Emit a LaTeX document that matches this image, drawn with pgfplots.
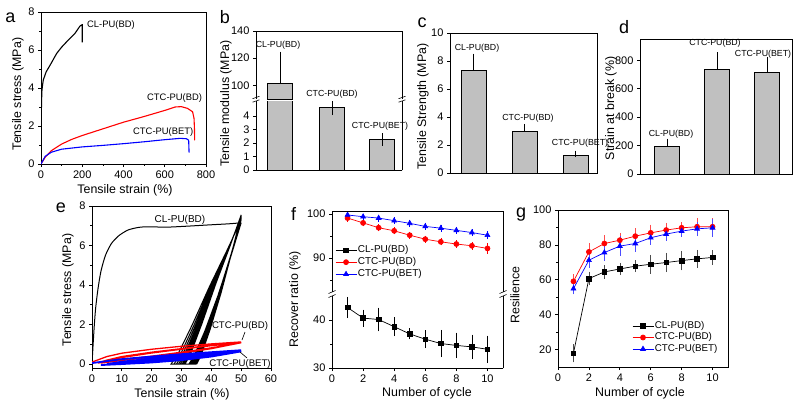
\documentclass[border=0pt]{standalone}
\usepackage{fontspec}
\setmainfont{Liberation Sans}
\usepackage{pgfplots}
\pgfplotsset{compat=1.18}
\definecolor{barg}{RGB}{192,192,192}
\definecolor{myred}{RGB}{255,0,0}
\definecolor{myblue}{RGB}{0,0,255}
\pgfplotsset{
  base/.style={scale only axis, anchor=south west,
    axis line style={line width=0.9pt},
    every tick/.style={black, line width=0.7pt},
    tick align=outside, major tick length=3pt, minor tick length=1.8pt,
    xtick pos=left, ytick pos=left,
    tick label style={font=\fontsize{11}{12}\selectfont},
    /pgf/number format/assume math mode=true},
  barplot/.style={ybar, bar shift=0pt, bar width=25, fill=barg, draw=black, line width=1pt,
    error bars/y dir=plus, error bars/y explicit,
    error bars/error bar style={line width=0.7pt, black},
    error bars/error mark options={line width=0.7pt, mark size=3pt, black}},
  legimg/.style={legend image code/.code={\draw[##1] (0pt,0pt) -- (21pt,0pt); \draw[##1] plot coordinates {(10.5pt,0pt)};}},
  ebar/.style={error bars/y dir=both, error bars/y explicit,
    error bars/error bar style={line width=0.5pt, #1},
    error bars/error mark options={line width=0.5pt, mark size=2.2pt, #1}}
}
\newcommand{\lab}{\fontsize{12.4}{14}\selectfont}
\newcommand{\blab}{\fontsize{8.8}{10}\selectfont}
\newcommand{\plab}{\fontsize{9.4}{11}\selectfont}
\newcommand{\letter}{\fontsize{18}{20}\selectfont}
\begin{document}
\begin{tikzpicture}[x=1pt,y=1pt]
\useasboundingbox (0,0) rectangle (800,408);

% ---------------- a ----------------
\begin{axis}[base, at={(41pt,244pt)}, width=165pt, height=152pt,
  xmin=0, xmax=800, ymin=0, ymax=8, xtick={0,200,...,800}, ytick={0,2,...,8},
  minor x tick num=1, minor y tick num=1]
\addplot[black, line width=1.1pt] coordinates {(0,0) (1,1.5) (2,2.9) (4,3.8) (6.5,4.07) (11,4.42) (25,4.85) (44,5.2) (76,5.82) (100,6.15) (125,6.44) (165,6.88) (189,7.26) (197,7.32) (200,7.33) (200,6.4)};
\addplot[myred, line width=1.1pt] coordinates {(0,0) (20,0.35) (50,0.7) (100,1.05) (150,1.3) (200,1.5) (300,1.85) (400,2.2) (500,2.5) (600,2.82) (650,3.0) (680,3.02) (710,2.93) (735,2.75) (742,2.4) (744,1.9) (745,1.25)};
\addplot[myblue, line width=1.1pt] coordinates {(0,0) (20,0.4) (50,0.62) (100,0.78) (200,0.9) (300,0.98) (400,1.07) (500,1.17) (600,1.28) (675,1.35) (705,1.33) (716,1.25) (718,0.6)};
\end{axis}

% ---------------- b (broken axis) ----------------
\begin{axis}[base, at={(256pt,238pt)}, width=146pt, height=69pt,
  xmin=256, xmax=402, ymin=0, ymax=5.1, xtick=\empty, ytick={0,1,2,3,4},
  separate axis lines, x axis line style={draw=none}]
\addplot[barplot, error bars/y dir=both] table[x=x, y=y, y error=e] {
x y e
280 101.5 0
332 4.6 0.32
382 2.25 0.23
};
\end{axis}
\begin{axis}[base, at={(256pt,309pt)}, width=146pt, height=68pt,
  xmin=256, xmax=402, ymin=90, ymax=140, xtick=\empty, ytick={100,120,140},
  separate axis lines, x axis line style={draw=none}]
\addplot[barplot] table[x=x, y=y, y error=e] {
x y e
280 101.5 21.2
};
\end{axis}
\draw[line width=0.9pt, line cap=rect] (256,377) -- (402,377);
\draw[line width=0.9pt, line cap=rect] (256,238) -- (402,238);
\foreach \xx in {256,402} {
  \draw[line width=0.6pt] (\xx-3.5,305.8) -- (\xx+3.5,308.2);
  \draw[line width=0.6pt] (\xx-3.5,309.3) -- (\xx+3.5,311.7);
}

% ---------------- c ----------------
\begin{axis}[base, at={(450pt,235pt)}, width=147pt, height=140pt,
  xmin=450, xmax=597, ymin=0, ymax=10, xtick=\empty, ytick={0,2,...,10}]
\addplot[barplot] table[x=x, y=y, y error=e] {
x y e
473.5 7.32 1.0
524.5 2.99 0.31
575.5 1.27 0.12
};
\end{axis}

% ---------------- d ----------------
\begin{axis}[base, at={(640pt,234pt)}, width=152pt, height=135pt,
  xmin=640, xmax=792, ymin=0, ymax=950, xtick=\empty, ytick={0,200,...,800}]
\addplot[barplot] table[x=x, y=y, y error=e] {
x y e
667 192 35
717 735 100
767 711 89
};
\end{axis}

% ---------------- e ----------------
\begin{axis}[base, at={(92pt,40pt)}, width=179pt, height=162pt,
  xmin=0, xmax=60, ymin=-0.2, ymax=8, xtick={0,10,...,60}, ytick={0,2,...,8},
  minor y tick num=1]
\addplot[black, line width=1pt, smooth, tension=0.4] coordinates {(0,0) (0.3,0.8) (0.7,1.8) (1.2,2.8) (2,3.8) (3,4.7) (4.5,5.5) (6.5,6.1) (9,6.5) (12,6.78) (15,6.9) (18,6.95) (25,6.93) (32,6.98) (40,7.05) (46,7.1) (50,7.15)};
\addplot[black, line width=1pt] coordinates {
(50,7.15) (46.5,5.43) (42.13,3.43) (37.75,1.64) (34.25,0.43) (32.5,0)
(26.5,0) (28.85,0.51) (33.55,1.97) (39.43,3.94) (45.3,5.77) (50,7.30)
(46.6,5.55) (42.35,3.5) (38.1,1.68) (34.7,0.44) (33,0)
(27.5,0) (29.75,0.52) (34.25,1.99) (39.88,3.97) (45.5,5.81) (50,7.36)
(46.68,5.59) (42.53,3.53) (38.38,1.69) (35.06,0.44) (33.4,0)
(28.3,0) (30.47,0.52) (34.81,2.0) (40.24,4.0) (45.66,5.85) (50,7.40)
(46.76,5.62) (42.71,3.55) (38.66,1.70) (35.42,0.44) (33.8,0)
(29,0) (31.1,0.52) (35.3,2.01) (40.55,4.02) (45.8,5.88) (50,7.44)
(46.82,5.65) (42.85,3.57) (38.87,1.71) (35.69,0.45) (34.1,0)
(29.6,0) (31.64,0.52) (35.72,2.02) (40.82,4.03) (45.92,5.9) (50,7.47)
(46.88,5.68) (42.98,3.59) (39.08,1.72) (35.96,0.45) (34.4,0)
(30.2,0) (32.18,0.53) (36.14,2.03) (41.09,4.05) (46.04,5.93) (50,7.5)
(46.94,5.7) (43.12,3.6) (39.29,1.73) (36.23,0.45) (34.7,0)
(30.7,0) (32.63,0.53) (36.49,2.03) (41.32,4.06) (46.14,5.94) (50,7.52)
(46.98,5.72) (43.21,3.61) (39.43,1.73) (36.41,0.45) (34.9,0)
(31.2,0) (33.08,0.53) (36.84,2.04) (41.54,4.08) (46.24,5.96) (50,7.55)
(47.02,5.74) (43.3,3.62) (39.57,1.74) (36.59,0.45) (35.1,0)};
\addplot[myred, line width=1.3pt] coordinates {
(0,0.1) (5,0.38) (10,0.55) (20,0.75) (30,0.9) (40,1.02) (50,1.12)
(45,0.95) (40,0.82) (30,0.6) (20,0.4) (10,0.22) (5,0.12) (2,0.05)
(5,0.2) (10,0.38) (20,0.6) (30,0.78) (40,0.95) (50,1.1)
(40,0.8) (30,0.57) (20,0.37) (10,0.2) (3,0.06)
(10,0.33) (20,0.56) (30,0.75) (40,0.93) (50,1.08)
(40,0.78) (30,0.55) (20,0.35) (10,0.18) (3,0.05)};
\addplot[myblue, line width=1.8pt] coordinates {
(0,0.05) (5,0.15) (10,0.25) (20,0.38) (30,0.5) (40,0.6) (50,0.7)
(40,0.45) (30,0.28) (20,0.15) (10,0.05) (5,0)
(10,0.12) (20,0.28) (30,0.42) (40,0.55) (50,0.68)
(40,0.42) (30,0.25) (20,0.12) (10,0.03) (5,-0.02)
(10,0.08) (20,0.22) (30,0.36) (40,0.5) (50,0.64)
(40,0.38) (30,0.2) (20,0.08) (10,0) (3,-0.05)};
\end{axis}

% ---------------- f (broken axis) ----------------
\begin{axis}[base, at={(332pt,116pt)}, width=171pt, height=81pt,
  xmin=0, xmax=11, ymin=82.3, ymax=100.7, xtick=\empty, ytick={90,100}, minor ytick={85,95},
  separate axis lines, x axis line style={draw=none}, legimg,
  legend style={at={(0.0175,0.593)}, anchor=north west, draw=none, fill=none,
    font=\fontsize{10}{12}\selectfont, inner sep=0pt, row sep=0pt,
    nodes={inner sep=1pt, text height=7.5pt, text depth=2.5pt}},
  legend cell align=left]
\addlegendimage{black, line width=0.7pt, mark=square*, mark size=2.3pt}
\addlegendentry{CL-PU(BD)}
\addplot[myred, line width=0.7pt, mark=*, mark size=2.5pt, ebar=myred] table[x=x, y=y, y error=e] {
x y e
1 99.1 0.3
2 98.0 0.3
3 96.9 0.3
4 96.2 0.3
5 95.2 0.3
6 94.3 0.3
7 93.7 0.3
8 93.2 0.3
9 92.8 0.4
10 92.2 0.7
};
\addlegendentry{CTC-PU(BD)}
\addplot[myblue, line width=0.7pt, mark=triangle*, mark size=2.8pt, ebar=myblue] table[x=x, y=y, y error=e] {
x y e
1 99.8 0.3
2 99.4 0.2
3 99.1 0.3
4 98.5 0.3
5 97.9 0.3
6 97.2 0.3
7 96.8 0.3
8 96.3 0.3
9 95.8 0.3
10 95.2 0.4
};
\addlegendentry{CTC-PU(BET)}
\end{axis}
\begin{axis}[base, at={(332pt,40pt)}, width=171pt, height=72pt,
  xmin=0, xmax=11, ymin=30, ymax=45, xtick={0,2,...,10}, ytick={30,40}, minor ytick={35},
  separate axis lines, x axis line style={draw=none}]
\addplot[black, line width=0.7pt, mark=square*, mark size=2.3pt, ebar=black] table[x=x, y=y, y error=e] {
x y e
1 42.6 1.75
2 40.4 1.3
3 40.1 2.0
4 38.6 1.5
5 37.1 0.7
6 36.0 1.4
7 35.1 2.4
8 34.7 2.2
9 34.4 2.1
10 33.9 2.4
};
\end{axis}
\draw[line width=0.9pt, line cap=rect] (332,197) -- (503,197);
\draw[line width=0.9pt, line cap=rect] (332,40) -- (503,40);
\foreach \xx in {332,503} {
  \draw[line width=0.6pt] (\xx-3.5,110.5) -- (\xx+3.5,113.5);
  \draw[line width=0.6pt] (\xx-3.5,114.5) -- (\xx+3.5,117.5);
}

% ---------------- g ----------------
\begin{axis}[base, at={(558pt,41pt)}, width=170pt, height=157pt,
  xmin=0, xmax=11, ymin=10, ymax=100, xtick={0,2,...,10}, ytick={20,40,...,100},
  minor y tick num=1, legimg,
  legend style={at={(0.435,0.299)}, anchor=north west, draw=none, fill=none,
    font=\fontsize{9.8}{11}\selectfont, inner sep=0pt, row sep=0pt,
    nodes={inner sep=1pt, text height=7.2pt, text depth=2.3pt}},
  legend cell align=left]
\addplot[black, line width=0.7pt, mark=square*, mark size=2.3pt, ebar=black!70] table[x=x, y=y, y error=e] {
x y e
1 17.9 4.0
2 60.7 2.7
3 64.5 2.7
4 66.2 2.2
5 67.8 2.1
6 68.9 4.1
7 69.9 4.3
8 71.0 4.3
9 72.0 3.9
10 72.8 3.0
};
\addlegendentry{CL-PU(BD)}
\addplot[myred, line width=0.7pt, mark=*, mark size=2.5pt, ebar=myred!70] table[x=x, y=y, y error=e] {
x y e
1 59.1 2.9
2 76.0 3.8
3 80.8 3.6
4 82.7 2.9
5 85.0 3.2
6 86.9 3.4
7 88.5 2.9
8 89.8 1.9
9 90.4 3.8
10 90.4 3.6
};
\addlegendentry{CTC-PU(BD)}
\addplot[myblue, line width=0.7pt, mark=triangle*, mark size=2.8pt, ebar=myblue!70] table[x=x, y=y, y error=e] {
x y e
1 54.9 2.0
2 71.2 2.9
3 75.6 3.4
4 79.3 4.3
5 80.8 3.4
6 84.1 2.7
7 86.2 2.6
8 87.9 1.9
9 89.2 2.9
10 89.8 3.8
};
\addlegendentry{CTC-PU(BET)}
\end{axis}

% ---------------- texts ----------------
\node[font=\letter] at (10.5,390.5) {a};
\node[font=\letter] at (225,390.5) {b};
\node[font=\letter] at (422,385.5) {c};
\node[font=\letter] at (624,380.5) {d};
\node[font=\letter] at (61,200) {e};
\node[font=\letter] at (293.5,194.5) {f};
\node[font=\letter] at (521,193) {g};
\node[font=\lab, rotate=90] at (18,314) {Tensile stress (MPa)};
\node[font=\lab, rotate=90] at (226,304.5) {Tensile modulus (MPa)};
\node[font=\lab, rotate=90] at (423,301.5) {Tensile Strength (MPa)};
\node[font=\lab, rotate=90] at (611,299.5) {Strain at break (\%)};
\node[font=\lab, rotate=90] at (68,118) {Tensile stress (MPa)};
\node[font=\lab, rotate=90] at (295,108.5) {Recover ratio (\%)};
\node[font=\lab, rotate=90] at (515,113) {Resilience};
\node[font=\lab] at (125,218) {Tensile strain (\%)};
\node[font=\lab] at (182,14) {Tensile strain (\%)};
\node[font=\lab] at (427,15) {Number of cycle};
\node[font=\lab] at (640,15) {Number of cycle};
\node[font=\plab, anchor=west, inner sep=0pt] at (87,383) {CL-PU(BD)};
\node[font=\plab, anchor=west, inner sep=0pt] at (147,310) {CTC-PU(BD)};
\node[font=\plab, anchor=west, inner sep=0pt] at (133,276) {CTC-PU(BET)};
\node[font=\blab] at (278,363) {CL-PU(BD)};
\node[font=\blab] at (332,314) {CTC-PU(BD)};
\node[font=\blab] at (380,282) {CTC-PU(BET)};
\node[font=\blab] at (477,360) {CL-PU(BD)};
\node[font=\blab] at (528,290) {CTC-PU(BD)};
\node[font=\blab] at (580,265) {CTC-PU(BET)};
\node[font=\blab] at (671,274) {CL-PU(BD)};
\node[font=\blab] at (715,365) {CTC-PU(BD)};
\node[font=\blab] at (763,354) {CTC-PU(BET)};
\node[font=\fontsize{10}{12}\selectfont] at (180,188.5) {CL-PU(BD)};
\node[font=\fontsize{9.6}{11}\selectfont] at (240,81.5) {CTC-PU(BD)};
\node[font=\fontsize{9.6}{11}\selectfont] at (240,44) {CTC-PU(BET)};
\draw[line width=0.6pt] (245,76) -- (242,68);
\draw[line width=0.6pt] (240,56) -- (247,50);
\end{tikzpicture}
\end{document}
